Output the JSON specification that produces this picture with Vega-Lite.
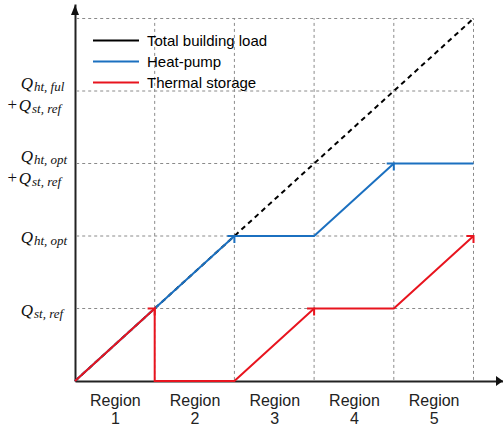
{
  "$schema": "https://vega.github.io/schema/vega-lite/v6.json",
  "width": 428,
  "height": 377,
  "autosize": "none",
  "padding": {"left": 75, "top": 4, "right": 0, "bottom": 49},
  "background": "white",
  "config": {"view": {"stroke": null}},
  "datasets": {
    "grid": [{"x": 1, "y": 1}, {"x": 2, "y": 2}, {"x": 3, "y": 3}, {"x": 4, "y": 4}, {"x": 5, "y": 5}],
    "load": [
      {"series": "Total building load", "x": 0, "y": 0},
      {"series": "Total building load", "x": 5, "y": 5}
    ],
    "lines": [
      {"series": "Heat-pump", "i": 0, "x": 0, "y": 0},
      {"series": "Heat-pump", "i": 1, "x": 1, "y": 1},
      {"series": "Heat-pump", "i": 2, "x": 2, "y": 2},
      {"series": "Heat-pump", "i": 3, "x": 3, "y": 2},
      {"series": "Heat-pump", "i": 4, "x": 4, "y": 3},
      {"series": "Heat-pump", "i": 5, "x": 5, "y": 3},
      {"series": "Thermal storage", "i": 0, "x": 0, "y": 0},
      {"series": "Thermal storage", "i": 1, "x": 1, "y": 1},
      {"series": "Thermal storage", "i": 2, "x": 1, "y": 0},
      {"series": "Thermal storage", "i": 3, "x": 2, "y": 0},
      {"series": "Thermal storage", "i": 4, "x": 3, "y": 1},
      {"series": "Thermal storage", "i": 5, "x": 4, "y": 1},
      {"series": "Thermal storage", "i": 6, "x": 5, "y": 2}
    ],
    "arrows": [
      {"series": "Heat-pump", "x": 2, "y": 2},
      {"series": "Heat-pump", "x": 4, "y": 3},
      {"series": "Thermal storage", "x": 1, "y": 1},
      {"series": "Thermal storage", "x": 3, "y": 1},
      {"series": "Thermal storage", "x": 5, "y": 2}
    ],
    "ylabels": [
      {"y": 1, "pos": "single", "sub": "st, ref"},
      {"y": 2, "pos": "single", "sub": "ht, opt"},
      {"y": 3, "pos": "upper", "sub": "ht, opt"},
      {"y": 3, "pos": "lower", "sub": "st, ref"},
      {"y": 4, "pos": "upper", "sub": "ht, ful"},
      {"y": 4, "pos": "lower", "sub": "st, ref"}
    ],
    "one": [{}]
  },
  "layer": [
    {
      "data": {"name": "grid"},
      "mark": {"type": "rule", "color": "#8a8a8a", "strokeWidth": 1, "strokeDash": [3, 3]},
      "encoding": {
        "x": {"field": "x", "type": "quantitative", "scale": {"domain": [0, 5.37], "nice": false, "zero": false},
          "axis": {"title": null, "grid": false, "ticks": false, "domainColor": "#222", "domainWidth": 2,
            "values": [0.5, 1.5, 2.5, 3.5, 4.5],
            "labelExpr": "['Region', format(datum.value + 0.5, 'd')]",
            "labelFont": "Liberation Sans", "labelFontSize": 16, "labelColor": "#222",
            "labelBaseline": "top", "labelPadding": 11, "labelLineHeight": 18,
            "labelFlush": false, "labelOverlap": false, "labelBound": false}},
        "y": {"datum": 0.015, "type": "quantitative", "scale": {"domain": [0, 5.2], "nice": false, "zero": false},
          "axis": {"title": null, "grid": false, "ticks": false, "labels": false, "domainColor": "#222", "domainWidth": 2}},
        "y2": {"datum": 5}
      }
    },
    {
      "data": {"name": "grid"},
      "mark": {"type": "rule", "color": "#8a8a8a", "strokeWidth": 1, "strokeDash": [3, 3]},
      "encoding": {
        "y": {"field": "y", "type": "quantitative"},
        "x": {"datum": 0.015, "type": "quantitative"},
        "x2": {"datum": 5}
      }
    },
    {
      "data": {"name": "load"},
      "mark": {"type": "line", "strokeWidth": 2, "strokeDash": [5, 4]},
      "encoding": {
        "x": {"field": "x", "type": "quantitative"},
        "y": {"field": "y", "type": "quantitative"},
        "color": {"field": "series", "type": "nominal",
          "scale": {"domain": ["Total building load", "Heat-pump", "Thermal storage"], "range": ["#000000", "#1b70c0", "#e8141e"]},
          "legend": {"title": null, "orient": "none", "legendX": 17, "legendY": 28, "padding": 0,
            "symbolType": "stroke", "symbolStrokeWidth": 2, "symbolSize": 2116, "symbolDash": [100, 0],
            "clipHeight": 17, "rowPadding": 4,
            "labelFont": "Liberation Sans", "labelFontSize": 15, "labelColor": "#000", "labelOffset": 7}}
      }
    },
    {
      "data": {"name": "lines"},
      "mark": {"type": "line", "strokeWidth": 2},
      "encoding": {
        "x": {"field": "x", "type": "quantitative"},
        "y": {"field": "y", "type": "quantitative"},
        "order": {"field": "i", "type": "quantitative"},
        "color": {"field": "series", "type": "nominal"}
      }
    },
    {
      "data": {"name": "arrows"},
      "mark": {"type": "point", "shape": "M -1 1 L 0 0 L 1 1", "filled": false, "size": 100, "strokeWidth": 2, "angle": 45, "opacity": 1},
      "encoding": {
        "x": {"field": "x", "type": "quantitative"},
        "y": {"field": "y", "type": "quantitative"},
        "color": {"field": "series", "type": "nominal"}
      }
    },
    {
      "data": {"name": "one"},
      "mark": {"type": "point", "shape": "M -0.7 -1 L 0.7 0 L -0.7 1 Z", "filled": true, "size": 100, "color": "#111", "opacity": 1},
      "encoding": {
        "x": {"datum": 5.326, "type": "quantitative"},
        "y": {"datum": 0, "type": "quantitative"}
      }
    },
    {
      "data": {"name": "one"},
      "mark": {"type": "point", "shape": "M -0.8 1 L 0 -1 L 0.8 1 Z", "filled": true, "size": 100, "color": "#111", "opacity": 1},
      "encoding": {
        "x": {"datum": 0, "type": "quantitative"},
        "y": {"datum": 5.117, "type": "quantitative"}
      }
    },
    {
      "data": {"name": "ylabels"},
      "transform": [{"filter": "datum.pos === 'single'"}],
      "mark": {"type": "text", "text": "Q", "font": "Liberation Serif", "fontStyle": "italic", "fontSize": 17, "align": "right", "baseline": "alphabetic", "dx": -42, "dy": 7, "color": "#111"},
      "encoding": {"x": {"datum": 0, "type": "quantitative"}, "y": {"field": "y", "type": "quantitative"}}
    },
    {
      "data": {"name": "ylabels"},
      "transform": [{"filter": "datum.pos === 'single'"}],
      "mark": {"type": "text", "font": "Liberation Serif", "fontStyle": "italic", "fontSize": 13, "align": "left", "baseline": "alphabetic", "dx": -41, "dy": 9, "color": "#111"},
      "encoding": {"x": {"datum": 0, "type": "quantitative"}, "y": {"field": "y", "type": "quantitative"}, "text": {"field": "sub"}}
    },
    {
      "data": {"name": "ylabels"},
      "transform": [{"filter": "datum.pos === 'upper'"}],
      "mark": {"type": "text", "text": "Q", "font": "Liberation Serif", "fontStyle": "italic", "fontSize": 17, "align": "right", "baseline": "alphabetic", "dx": -42, "dy": -2, "color": "#111"},
      "encoding": {"x": {"datum": 0, "type": "quantitative"}, "y": {"field": "y", "type": "quantitative"}}
    },
    {
      "data": {"name": "ylabels"},
      "transform": [{"filter": "datum.pos === 'upper'"}],
      "mark": {"type": "text", "font": "Liberation Serif", "fontStyle": "italic", "fontSize": 13, "align": "left", "baseline": "alphabetic", "dx": -41, "dy": 0, "color": "#111"},
      "encoding": {"x": {"datum": 0, "type": "quantitative"}, "y": {"field": "y", "type": "quantitative"}, "text": {"field": "sub"}}
    },
    {
      "data": {"name": "ylabels"},
      "transform": [{"filter": "datum.pos === 'lower'"}],
      "mark": {"type": "text", "text": "+", "font": "Liberation Serif", "fontSize": 17, "align": "right", "baseline": "alphabetic", "dx": -58, "dy": 19, "color": "#111"},
      "encoding": {"x": {"datum": 0, "type": "quantitative"}, "y": {"field": "y", "type": "quantitative"}}
    },
    {
      "data": {"name": "ylabels"},
      "transform": [{"filter": "datum.pos === 'lower'"}],
      "mark": {"type": "text", "text": "Q", "font": "Liberation Serif", "fontStyle": "italic", "fontSize": 17, "align": "right", "baseline": "alphabetic", "dx": -44, "dy": 20, "color": "#111"},
      "encoding": {"x": {"datum": 0, "type": "quantitative"}, "y": {"field": "y", "type": "quantitative"}}
    },
    {
      "data": {"name": "ylabels"},
      "transform": [{"filter": "datum.pos === 'lower'"}],
      "mark": {"type": "text", "font": "Liberation Serif", "fontStyle": "italic", "fontSize": 13, "align": "left", "baseline": "alphabetic", "dx": -43, "dy": 22, "color": "#111"},
      "encoding": {"x": {"datum": 0, "type": "quantitative"}, "y": {"field": "y", "type": "quantitative"}, "text": {"field": "sub"}}
    }
  ]
}
